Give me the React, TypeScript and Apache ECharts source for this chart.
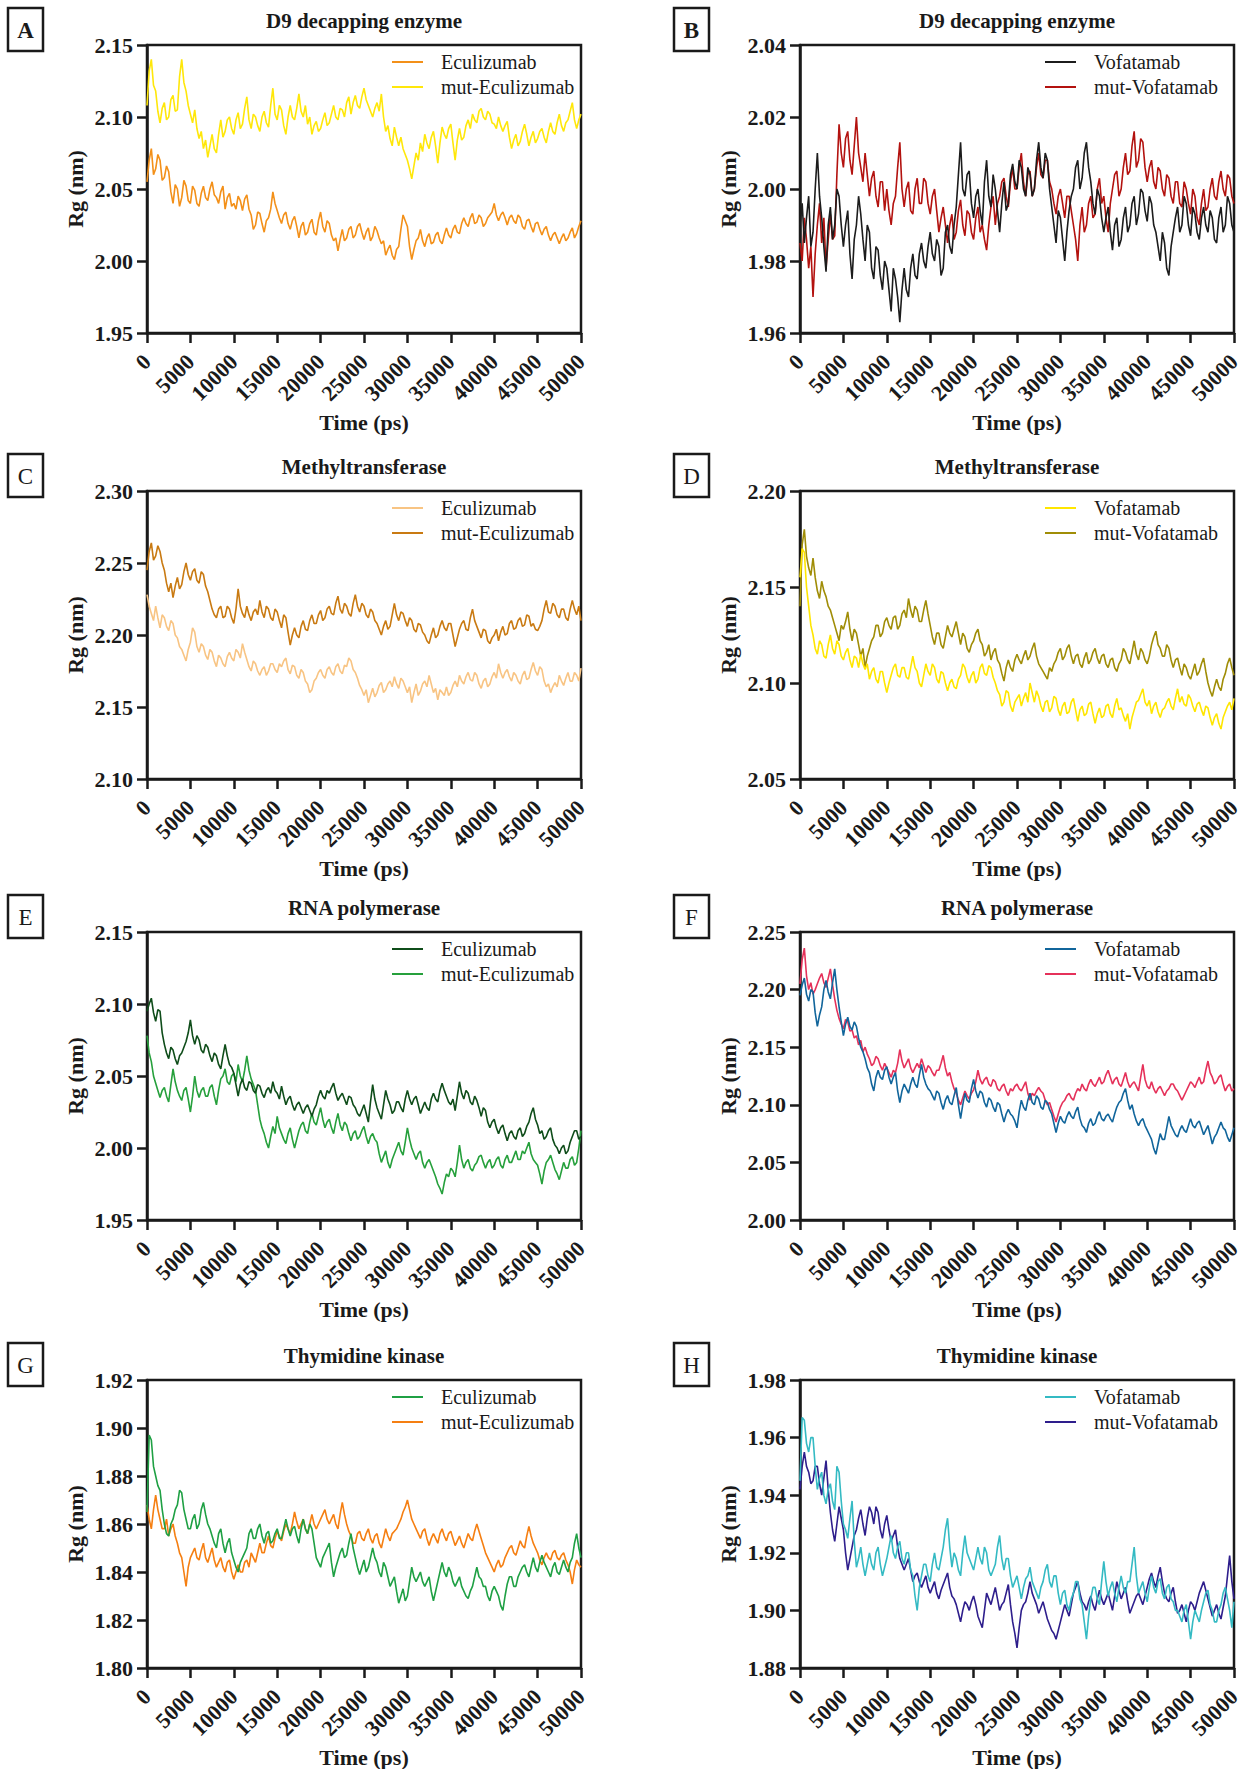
import React, { useEffect, useRef } from "react";
import * as echarts from "echarts";

const FONT = '"Liberation Serif", "Times New Roman", Times, serif';
const INK = "#1a1a1a";

// sample times (ps): one sample every 250 ps, 0 … 50000
const TIME_PS = Array.from({ length: 201 }, (_, i) => i * 250);
const X_TICKS = { min: 0, max: 50000, step: 5000 };

// ---------- A: D9 decapping enzyme (Eculizumab) ----------
const A_ECU = [
  2.055, 2.070, 2.078, 2.060, 2.064, 2.074, 2.070, 2.056, 2.058, 2.066, 2.062, 2.048, 2.040, 2.053, 2.050, 2.038, 2.044, 2.056, 2.052, 2.042,
  2.040, 2.052, 2.049, 2.040, 2.038, 2.047, 2.052, 2.044, 2.042, 2.050, 2.055, 2.046, 2.044, 2.040, 2.048, 2.052, 2.036, 2.044, 2.047, 2.038,
  2.040, 2.036, 2.045, 2.042, 2.035, 2.043, 2.046, 2.036, 2.032, 2.022, 2.025, 2.034, 2.033, 2.026, 2.020, 2.028, 2.030, 2.036, 2.048, 2.040,
  2.035, 2.030, 2.026, 2.032, 2.034, 2.026, 2.022, 2.028, 2.031, 2.024, 2.016, 2.024, 2.027, 2.018, 2.020, 2.026, 2.029, 2.020, 2.018, 2.028,
  2.034, 2.024, 2.020, 2.028, 2.026, 2.018, 2.014, 2.016, 2.007, 2.015, 2.022, 2.014, 2.016, 2.022, 2.024, 2.016, 2.018, 2.024, 2.026, 2.020,
  2.015, 2.020, 2.023, 2.014, 2.017, 2.024, 2.021, 2.016, 2.012, 2.014, 2.004, 2.008, 2.011, 2.004, 2.001, 2.008, 2.010, 2.022, 2.032, 2.028,
  2.024, 2.010, 2.001, 2.008, 2.014, 2.016, 2.022, 2.014, 2.010, 2.016, 2.019, 2.012, 2.013, 2.018, 2.020, 2.014, 2.012, 2.018, 2.023, 2.018,
  2.016, 2.022, 2.025, 2.020, 2.019, 2.026, 2.030, 2.026, 2.024, 2.030, 2.033, 2.026, 2.027, 2.032, 2.030, 2.024, 2.026, 2.030, 2.032, 2.034,
  2.040, 2.032, 2.028, 2.032, 2.034, 2.030, 2.025, 2.030, 2.032, 2.028, 2.026, 2.032, 2.030, 2.024, 2.022, 2.028, 2.029, 2.024, 2.020, 2.026,
  2.027, 2.022, 2.018, 2.022, 2.024, 2.018, 2.014, 2.018, 2.020, 2.016, 2.012, 2.016, 2.019, 2.014, 2.016, 2.020, 2.023, 2.016, 2.019, 2.024,
  2.028,
];
const A_MUT = [
  2.108, 2.132, 2.140, 2.122, 2.118, 2.104, 2.096, 2.106, 2.110, 2.098, 2.100, 2.112, 2.115, 2.104, 2.105, 2.128, 2.140, 2.124, 2.118, 2.108,
  2.102, 2.096, 2.105, 2.092, 2.085, 2.090, 2.078, 2.084, 2.072, 2.080, 2.088, 2.078, 2.075, 2.088, 2.098, 2.086, 2.090, 2.098, 2.100, 2.092,
  2.088, 2.098, 2.103, 2.092, 2.095, 2.106, 2.114, 2.098, 2.092, 2.102, 2.100, 2.094, 2.090, 2.100, 2.104, 2.096, 2.093, 2.108, 2.120, 2.102,
  2.098, 2.108, 2.105, 2.094, 2.088, 2.100, 2.108, 2.100, 2.098, 2.106, 2.116, 2.104, 2.100, 2.108, 2.095, 2.100, 2.088, 2.094, 2.097, 2.090,
  2.092, 2.098, 2.103, 2.094, 2.096, 2.102, 2.108, 2.100, 2.098, 2.106, 2.105, 2.100, 2.110, 2.114, 2.102, 2.110, 2.115, 2.108, 2.106, 2.114,
  2.120, 2.112, 2.108, 2.104, 2.100, 2.106, 2.110, 2.104, 2.116, 2.100, 2.090, 2.094, 2.085, 2.080, 2.093, 2.086, 2.080, 2.086, 2.078, 2.074,
  2.070, 2.064, 2.057, 2.066, 2.075, 2.070, 2.082, 2.076, 2.088, 2.082, 2.078, 2.086, 2.090, 2.080, 2.068, 2.082, 2.093, 2.088, 2.085, 2.092,
  2.095, 2.082, 2.070, 2.084, 2.092, 2.084, 2.086, 2.094, 2.098, 2.092, 2.102, 2.098, 2.096, 2.104, 2.106, 2.100, 2.098, 2.104, 2.102, 2.096,
  2.095, 2.092, 2.100, 2.094, 2.090, 2.094, 2.097, 2.086, 2.078, 2.084, 2.088, 2.080, 2.083, 2.090, 2.095, 2.088, 2.080, 2.086, 2.090, 2.082,
  2.085, 2.090, 2.092, 2.086, 2.082, 2.090, 2.096, 2.090, 2.088, 2.096, 2.102, 2.094, 2.090, 2.096, 2.098, 2.104, 2.110, 2.098, 2.092, 2.098,
  2.102,
];

// ---------- B: D9 decapping enzyme (Vofatamab) ----------
const B_VOF = [
  1.990, 1.996, 1.985, 1.992, 1.998, 1.984, 1.988, 2.000, 2.010, 1.998, 1.992, 1.984, 1.977, 1.990, 1.995, 1.986, 1.990, 2.000, 1.998, 1.990,
  1.984, 1.990, 1.994, 1.982, 1.975, 1.986, 1.990, 1.998, 1.993, 1.986, 1.980, 1.990, 1.988, 1.978, 1.975, 1.984, 1.983, 1.976, 1.972, 1.980,
  1.978, 1.972, 1.966, 1.978, 1.975, 1.970, 1.963, 1.972, 1.978, 1.972, 1.970, 1.978, 1.982, 1.976, 1.975, 1.982, 1.985, 1.980, 1.978, 1.984,
  1.988, 1.982, 1.980, 1.986, 1.984, 1.976, 1.978, 1.988, 1.990, 1.984, 1.982, 1.990, 1.995, 2.004, 2.013, 2.000, 1.998, 2.004, 2.005, 1.996,
  1.992, 1.998, 2.000, 1.994, 1.990, 2.002, 2.008, 1.998, 1.995, 2.004, 2.000, 1.994, 1.988, 1.996, 2.002, 1.994, 1.996, 2.004, 2.007, 2.002,
  2.000, 2.008, 2.006, 2.000, 1.998, 2.006, 2.004, 1.998, 2.000, 2.008, 2.013, 2.006, 2.003, 2.010, 2.008, 2.000, 1.995, 1.990, 1.985, 1.994,
  1.992, 1.986, 1.980, 1.988, 1.994, 1.998, 2.000, 2.006, 2.008, 2.000, 2.003, 2.010, 2.013, 2.006, 2.002, 1.996, 1.993, 2.000, 1.998, 1.992,
  1.988, 1.992, 1.995, 1.988, 1.983, 1.990, 1.992, 1.984, 1.986, 1.992, 1.995, 1.988, 1.990, 1.996, 1.998, 1.990, 1.993, 2.000, 1.999, 1.994,
  1.991, 1.998, 1.996, 1.990, 1.988, 1.984, 1.980, 1.988, 1.985, 1.978, 1.976, 1.984, 1.988, 1.992, 1.995, 1.988, 1.990, 1.998, 1.996, 1.990,
  1.987, 1.995, 1.993, 1.988, 1.986, 1.992, 1.995, 1.990, 1.988, 1.994, 1.992, 1.986, 1.985, 1.992, 1.995, 1.988, 1.990, 1.998, 1.996, 1.990,
  1.988,
];
const B_MUT = [
  1.985, 1.980, 1.992, 1.986, 1.978, 1.984, 1.970, 1.982, 1.990, 1.996, 1.985, 1.992, 1.978, 1.986, 1.993, 1.986, 1.987, 2.004, 2.018, 2.010,
  2.006, 2.014, 2.016, 2.008, 2.004, 2.012, 2.020, 2.010, 2.006, 2.002, 2.010, 2.004, 1.998, 2.003, 2.005, 1.998, 1.995, 2.002, 2.002, 1.994,
  2.000, 1.994, 1.990, 1.996, 1.998, 2.006, 2.013, 2.000, 1.995, 2.000, 2.002, 1.994, 1.993, 2.000, 2.003, 1.996, 1.996, 2.003, 2.002, 1.996,
  1.993, 1.998, 2.000, 1.994, 1.988, 1.992, 1.995, 1.990, 1.985, 1.990, 1.993, 1.986, 1.988, 1.994, 1.997, 1.990, 1.987, 1.994, 1.993, 1.988,
  1.986, 1.992, 1.995, 1.988, 1.990, 1.986, 1.983, 1.990, 1.995, 1.998, 1.990, 1.996, 1.998, 2.002, 2.003, 1.998, 1.995, 2.002, 2.006, 2.000,
  2.000, 2.006, 2.010, 2.002, 1.998, 2.004, 2.005, 1.998, 2.000, 2.006, 2.010, 2.004, 2.003, 2.008, 2.008, 2.002, 2.000, 1.996, 1.993, 1.998,
  2.000, 1.996, 1.992, 1.998, 1.998, 1.994, 1.990, 1.986, 1.980, 1.990, 1.995, 1.988, 1.990, 1.996, 1.998, 1.992, 1.993, 2.000, 2.003, 1.996,
  1.998, 1.992, 1.988, 1.996, 2.000, 2.004, 2.005, 1.998, 2.000, 2.006, 2.010, 2.004, 2.005, 2.012, 2.016, 2.006, 2.008, 2.014, 2.013, 2.006,
  2.002, 2.006, 2.008, 2.002, 2.000, 2.006, 2.005, 2.000, 1.998, 2.004, 2.003, 1.998, 1.996, 2.002, 2.002, 1.996, 1.995, 2.002, 2.000, 1.996,
  1.993, 2.000, 1.998, 1.992, 1.990, 1.996, 2.000, 1.994, 1.995, 2.000, 2.003, 1.998, 1.997, 2.002, 2.005, 2.000, 1.998, 2.004, 2.003, 1.998,
  1.996,
];

// ---------- C: Methyltransferase (Eculizumab) ----------
const C_ECU = [
  2.228, 2.220, 2.215, 2.210, 2.220, 2.212, 2.205, 2.214, 2.212, 2.206, 2.203, 2.210, 2.208, 2.200, 2.198, 2.192, 2.190, 2.186, 2.182, 2.190,
  2.195, 2.205, 2.202, 2.192, 2.188, 2.194, 2.192, 2.186, 2.183, 2.190, 2.188, 2.182, 2.178, 2.186, 2.184, 2.180, 2.178, 2.185, 2.188, 2.184,
  2.182, 2.190, 2.188, 2.184, 2.194, 2.188, 2.183, 2.178, 2.175, 2.182, 2.180, 2.175, 2.172, 2.176, 2.178, 2.172, 2.175, 2.180, 2.180, 2.176,
  2.174, 2.180, 2.178, 2.182, 2.184, 2.176, 2.173, 2.179, 2.178, 2.172, 2.170, 2.176, 2.174, 2.168, 2.166, 2.160, 2.162, 2.168, 2.170, 2.174,
  2.176, 2.172, 2.170, 2.176, 2.178, 2.174, 2.172, 2.178, 2.180, 2.175, 2.173, 2.179, 2.178, 2.184, 2.182, 2.176, 2.174, 2.170, 2.165, 2.162,
  2.158, 2.162, 2.153, 2.158, 2.163, 2.157, 2.160, 2.165, 2.167, 2.160, 2.162, 2.166, 2.168, 2.164, 2.171, 2.166, 2.163, 2.170, 2.168, 2.164,
  2.160, 2.164, 2.153, 2.160, 2.166, 2.158, 2.161, 2.166, 2.168, 2.164, 2.172, 2.166, 2.160, 2.163, 2.155, 2.162, 2.160, 2.158, 2.164, 2.158,
  2.160, 2.165, 2.168, 2.164, 2.172, 2.168, 2.166, 2.171, 2.174, 2.169, 2.168, 2.174, 2.172, 2.166, 2.163, 2.168, 2.170, 2.164, 2.166, 2.171,
  2.174, 2.170, 2.180, 2.174, 2.170, 2.174, 2.176, 2.171, 2.168, 2.174, 2.172, 2.168, 2.166, 2.172, 2.175, 2.169, 2.170, 2.176, 2.181, 2.175,
  2.172, 2.178, 2.176, 2.168, 2.164, 2.166, 2.160, 2.164, 2.167, 2.164, 2.172, 2.168, 2.165, 2.170, 2.174, 2.168, 2.168, 2.174, 2.172, 2.168,
  2.177,
];
const C_MUT = [
  2.245, 2.258, 2.264, 2.252, 2.255, 2.262, 2.258, 2.250, 2.245, 2.236, 2.230, 2.236, 2.226, 2.234, 2.240, 2.232, 2.235, 2.244, 2.250, 2.242,
  2.238, 2.244, 2.246, 2.238, 2.236, 2.244, 2.242, 2.234, 2.230, 2.224, 2.218, 2.214, 2.212, 2.218, 2.220, 2.212, 2.213, 2.220, 2.218, 2.212,
  2.208, 2.218, 2.232, 2.220, 2.215, 2.212, 2.220, 2.214, 2.210, 2.216, 2.218, 2.214, 2.224, 2.216, 2.212, 2.220, 2.218, 2.212, 2.210, 2.218,
  2.216, 2.210, 2.205, 2.214, 2.212, 2.202, 2.193, 2.200, 2.205, 2.200, 2.198, 2.206, 2.210, 2.204, 2.203, 2.210, 2.214, 2.208, 2.208, 2.214,
  2.217, 2.210, 2.212, 2.218, 2.220, 2.215, 2.214, 2.222, 2.227, 2.218, 2.215, 2.222, 2.220, 2.215, 2.213, 2.222, 2.228, 2.220, 2.216, 2.222,
  2.220, 2.214, 2.212, 2.218, 2.216, 2.210, 2.208, 2.204, 2.200, 2.206, 2.210, 2.204, 2.206, 2.214, 2.222, 2.214, 2.210, 2.216, 2.215, 2.210,
  2.206, 2.212, 2.210, 2.204, 2.202, 2.208, 2.207, 2.202, 2.200, 2.196, 2.194, 2.200, 2.205, 2.198, 2.200, 2.206, 2.210, 2.205, 2.203, 2.208,
  2.208, 2.200, 2.192, 2.198, 2.204, 2.208, 2.210, 2.204, 2.203, 2.212, 2.218, 2.210, 2.206, 2.202, 2.198, 2.204, 2.203, 2.196, 2.194, 2.198,
  2.200, 2.204, 2.196, 2.202, 2.206, 2.200, 2.201, 2.208, 2.210, 2.204, 2.205, 2.210, 2.212, 2.206, 2.207, 2.214, 2.213, 2.206, 2.208, 2.204,
  2.203, 2.206, 2.210, 2.218, 2.224, 2.216, 2.215, 2.222, 2.220, 2.214, 2.212, 2.218, 2.218, 2.212, 2.210, 2.218, 2.224, 2.218, 2.214, 2.220,
  2.210,
];

// ---------- D: Methyltransferase (Vofatamab) ----------
const D_VOF = [
  2.155, 2.170, 2.168, 2.150, 2.140, 2.130, 2.125, 2.118, 2.115, 2.122, 2.120, 2.114, 2.113, 2.120, 2.125, 2.118, 2.115, 2.122, 2.120, 2.114,
  2.112, 2.116, 2.118, 2.112, 2.108, 2.114, 2.113, 2.108, 2.115, 2.110, 2.107, 2.110, 2.102, 2.106, 2.108, 2.102, 2.100, 2.106, 2.106, 2.100,
  2.095, 2.100, 2.104, 2.108, 2.110, 2.104, 2.103, 2.108, 2.108, 2.103, 2.102, 2.108, 2.114, 2.108, 2.106, 2.100, 2.098, 2.104, 2.110, 2.106,
  2.104, 2.110, 2.108, 2.102, 2.100, 2.106, 2.105, 2.100, 2.096, 2.100, 2.102, 2.098, 2.097, 2.102, 2.104, 2.110, 2.108, 2.103, 2.100, 2.104,
  2.106, 2.100, 2.102, 2.108, 2.110, 2.105, 2.104, 2.109, 2.108, 2.103, 2.100, 2.096, 2.094, 2.088, 2.090, 2.096, 2.095, 2.088, 2.085, 2.090,
  2.092, 2.094, 2.088, 2.092, 2.095, 2.090, 2.100, 2.095, 2.090, 2.096, 2.093, 2.088, 2.085, 2.090, 2.091, 2.085, 2.087, 2.093, 2.092, 2.086,
  2.083, 2.088, 2.090, 2.084, 2.085, 2.090, 2.092, 2.086, 2.080, 2.086, 2.088, 2.083, 2.084, 2.089, 2.090, 2.084, 2.079, 2.084, 2.087, 2.082,
  2.083, 2.088, 2.089, 2.084, 2.082, 2.088, 2.092, 2.086, 2.087, 2.083, 2.080, 2.084, 2.076, 2.082, 2.086, 2.090, 2.091, 2.094, 2.097, 2.090,
  2.088, 2.091, 2.084, 2.088, 2.090, 2.085, 2.082, 2.086, 2.087, 2.090, 2.092, 2.088, 2.086, 2.092, 2.097, 2.090, 2.093, 2.089, 2.088, 2.094,
  2.092, 2.088, 2.085, 2.089, 2.090, 2.086, 2.083, 2.088, 2.087, 2.082, 2.078, 2.082, 2.084, 2.079, 2.076, 2.082, 2.085, 2.088, 2.090, 2.086,
  2.092,
];
const D_MUT = [
  2.140, 2.172, 2.180, 2.166, 2.160, 2.156, 2.165, 2.155, 2.148, 2.144, 2.153, 2.148, 2.145, 2.140, 2.138, 2.134, 2.130, 2.126, 2.122, 2.130,
  2.128, 2.132, 2.137, 2.128, 2.122, 2.128, 2.126, 2.120, 2.114, 2.118, 2.108, 2.114, 2.118, 2.122, 2.124, 2.130, 2.130, 2.124, 2.126, 2.132,
  2.134, 2.130, 2.128, 2.134, 2.135, 2.128, 2.130, 2.136, 2.138, 2.134, 2.144, 2.138, 2.134, 2.140, 2.138, 2.132, 2.132, 2.138, 2.143, 2.136,
  2.130, 2.124, 2.120, 2.126, 2.126, 2.120, 2.118, 2.124, 2.130, 2.126, 2.124, 2.128, 2.132, 2.126, 2.120, 2.126, 2.124, 2.118, 2.116, 2.120,
  2.122, 2.126, 2.128, 2.122, 2.120, 2.114, 2.116, 2.120, 2.112, 2.116, 2.118, 2.112, 2.110, 2.105, 2.101, 2.108, 2.112, 2.108, 2.106, 2.112,
  2.115, 2.112, 2.110, 2.114, 2.117, 2.112, 2.114, 2.118, 2.121, 2.114, 2.110, 2.108, 2.106, 2.104, 2.102, 2.108, 2.106, 2.110, 2.112, 2.116,
  2.118, 2.112, 2.114, 2.118, 2.120, 2.114, 2.110, 2.114, 2.115, 2.110, 2.108, 2.113, 2.116, 2.110, 2.112, 2.116, 2.118, 2.113, 2.110, 2.114,
  2.115, 2.110, 2.108, 2.112, 2.113, 2.108, 2.106, 2.110, 2.112, 2.118, 2.116, 2.112, 2.110, 2.116, 2.122, 2.115, 2.112, 2.118, 2.116, 2.112,
  2.110, 2.114, 2.120, 2.124, 2.127, 2.120, 2.118, 2.114, 2.114, 2.120, 2.118, 2.112, 2.108, 2.112, 2.113, 2.108, 2.104, 2.110, 2.108, 2.104,
  2.102, 2.106, 2.110, 2.104, 2.106, 2.110, 2.113, 2.106, 2.100, 2.096, 2.093, 2.098, 2.102, 2.098, 2.096, 2.102, 2.105, 2.110, 2.113, 2.108,
  2.104,
];

// ---------- E: RNA polymerase (Eculizumab) ----------
const E_ECU = [
  2.095, 2.100, 2.104, 2.094, 2.088, 2.096, 2.095, 2.080, 2.072, 2.066, 2.062, 2.070, 2.068, 2.062, 2.058, 2.064, 2.066, 2.070, 2.074, 2.080,
  2.089, 2.078, 2.072, 2.078, 2.075, 2.068, 2.066, 2.072, 2.070, 2.064, 2.060, 2.066, 2.064, 2.058, 2.055, 2.064, 2.072, 2.064, 2.058, 2.056,
  2.052, 2.044, 2.036, 2.044, 2.048, 2.042, 2.040, 2.046, 2.045, 2.040, 2.038, 2.044, 2.043, 2.038, 2.035, 2.040, 2.042, 2.038, 2.046, 2.040,
  2.038, 2.034, 2.043, 2.036, 2.030, 2.034, 2.036, 2.030, 2.026, 2.030, 2.032, 2.028, 2.024, 2.028, 2.030, 2.026, 2.022, 2.027, 2.030, 2.036,
  2.040, 2.036, 2.034, 2.040, 2.038, 2.042, 2.045, 2.038, 2.033, 2.036, 2.038, 2.034, 2.030, 2.036, 2.035, 2.030, 2.028, 2.024, 2.022, 2.026,
  2.030, 2.024, 2.018, 2.032, 2.044, 2.034, 2.028, 2.024, 2.020, 2.030, 2.040, 2.034, 2.030, 2.024, 2.026, 2.032, 2.032, 2.028, 2.025, 2.034,
  2.040, 2.034, 2.030, 2.034, 2.036, 2.030, 2.024, 2.028, 2.032, 2.028, 2.026, 2.034, 2.038, 2.034, 2.032, 2.040, 2.045, 2.040, 2.036, 2.032,
  2.030, 2.034, 2.026, 2.036, 2.046, 2.038, 2.034, 2.040, 2.038, 2.032, 2.030, 2.036, 2.033, 2.028, 2.022, 2.028, 2.026, 2.018, 2.014, 2.018,
  2.020, 2.014, 2.010, 2.014, 2.016, 2.010, 2.005, 2.010, 2.012, 2.008, 2.006, 2.012, 2.014, 2.008, 2.010, 2.015, 2.018, 2.024, 2.028, 2.020,
  2.016, 2.010, 2.012, 2.006, 2.008, 2.012, 2.014, 2.006, 2.002, 2.000, 1.996, 2.000, 2.002, 1.996, 1.998, 2.004, 2.008, 2.012, 2.012, 2.006,
  2.008,
];
const E_MUT = [
  2.078, 2.066, 2.060, 2.050, 2.045, 2.040, 2.035, 2.040, 2.042, 2.036, 2.032, 2.044, 2.055, 2.046, 2.040, 2.036, 2.033, 2.040, 2.042, 2.034,
  2.025, 2.036, 2.050, 2.040, 2.035, 2.040, 2.042, 2.036, 2.036, 2.042, 2.044, 2.036, 2.030, 2.040, 2.048, 2.050, 2.055, 2.046, 2.044, 2.050,
  2.052, 2.046, 2.058, 2.050, 2.046, 2.054, 2.064, 2.054, 2.048, 2.044, 2.040, 2.030, 2.020, 2.014, 2.010, 2.004, 2.000, 2.008, 2.015, 2.010,
  2.022, 2.014, 2.010, 2.006, 2.003, 2.010, 2.014, 2.006, 2.000, 2.006, 2.012, 2.016, 2.018, 2.012, 2.010, 2.018, 2.024, 2.018, 2.016, 2.022,
  2.028, 2.020, 2.014, 2.018, 2.020, 2.014, 2.010, 2.018, 2.024, 2.016, 2.012, 2.018, 2.016, 2.010, 2.005, 2.010, 2.012, 2.006, 2.008, 2.012,
  2.015, 2.008, 2.003, 2.008, 2.010, 2.006, 2.004, 1.996, 1.990, 1.994, 1.998, 1.990, 1.986, 1.992, 1.996, 2.000, 2.004, 1.998, 1.995, 2.004,
  2.014, 2.006, 2.000, 1.996, 1.992, 1.996, 1.998, 1.990, 1.986, 1.990, 1.992, 1.988, 1.984, 1.980, 1.975, 1.972, 1.968, 1.976, 1.982, 1.980,
  1.986, 1.984, 1.980, 1.990, 2.002, 1.992, 1.986, 1.990, 1.992, 1.986, 1.984, 1.988, 1.990, 1.994, 1.995, 1.990, 1.986, 1.990, 1.992, 1.986,
  1.988, 1.992, 1.994, 1.988, 1.986, 1.992, 1.995, 1.990, 1.990, 1.994, 1.998, 1.992, 1.992, 1.998, 1.996, 2.000, 2.004, 1.996, 1.992, 1.990,
  1.988, 1.982, 1.975, 1.984, 1.990, 1.992, 1.995, 1.990, 1.985, 1.982, 1.978, 1.984, 1.990, 1.986, 1.986, 1.992, 1.994, 1.988, 1.990, 2.000,
  2.012,
];

// ---------- F: RNA polymerase (Vofatamab) ----------
const F_VOF = [
  2.195, 2.204, 2.210, 2.196, 2.190, 2.200, 2.198, 2.180, 2.168, 2.178, 2.185, 2.200, 2.208, 2.198, 2.192, 2.206, 2.218, 2.200, 2.185, 2.172,
  2.160, 2.170, 2.176, 2.168, 2.165, 2.172, 2.168, 2.158, 2.150, 2.146, 2.140, 2.132, 2.128, 2.118, 2.112, 2.124, 2.130, 2.124, 2.122, 2.130,
  2.133, 2.124, 2.118, 2.124, 2.128, 2.112, 2.102, 2.112, 2.118, 2.114, 2.110, 2.118, 2.124, 2.118, 2.115, 2.126, 2.135, 2.124, 2.118, 2.114,
  2.112, 2.108, 2.104, 2.112, 2.110, 2.102, 2.096, 2.104, 2.108, 2.102, 2.100, 2.108, 2.115, 2.100, 2.088, 2.100, 2.110, 2.104, 2.102, 2.114,
  2.122, 2.112, 2.106, 2.112, 2.110, 2.102, 2.098, 2.106, 2.104, 2.098, 2.094, 2.102, 2.100, 2.092, 2.085, 2.092, 2.096, 2.092, 2.090, 2.086,
  2.080, 2.094, 2.104, 2.098, 2.095, 2.104, 2.110, 2.102, 2.100, 2.108, 2.105, 2.098, 2.096, 2.104, 2.102, 2.096, 2.092, 2.084, 2.076, 2.084,
  2.090, 2.086, 2.084, 2.090, 2.094, 2.090, 2.088, 2.094, 2.098, 2.088, 2.082, 2.080, 2.076, 2.084, 2.088, 2.082, 2.084, 2.090, 2.094, 2.088,
  2.086, 2.090, 2.092, 2.088, 2.085, 2.092, 2.098, 2.102, 2.104, 2.110, 2.114, 2.104, 2.096, 2.100, 2.092, 2.086, 2.082, 2.086, 2.088, 2.082,
  2.078, 2.074, 2.070, 2.062, 2.057, 2.066, 2.075, 2.070, 2.070, 2.080, 2.090, 2.082, 2.078, 2.074, 2.072, 2.078, 2.082, 2.078, 2.076, 2.082,
  2.088, 2.082, 2.080, 2.084, 2.086, 2.080, 2.074, 2.078, 2.082, 2.074, 2.066, 2.072, 2.075, 2.080, 2.085, 2.080, 2.078, 2.072, 2.068, 2.074,
  2.080,
];
const F_MUT = [
  2.205, 2.226, 2.236, 2.212, 2.200, 2.206, 2.196, 2.200, 2.205, 2.210, 2.214, 2.206, 2.202, 2.210, 2.218, 2.204, 2.192, 2.182, 2.175, 2.170,
  2.166, 2.174, 2.172, 2.164, 2.165, 2.158, 2.160, 2.152, 2.156, 2.146, 2.150, 2.144, 2.140, 2.134, 2.136, 2.142, 2.140, 2.134, 2.130, 2.136,
  2.132, 2.128, 2.124, 2.130, 2.128, 2.136, 2.148, 2.138, 2.132, 2.136, 2.140, 2.132, 2.128, 2.132, 2.136, 2.132, 2.140, 2.134, 2.128, 2.134,
  2.132, 2.128, 2.125, 2.130, 2.130, 2.136, 2.143, 2.132, 2.125, 2.128, 2.120, 2.114, 2.110, 2.104, 2.100, 2.106, 2.112, 2.108, 2.105, 2.110,
  2.113, 2.120, 2.130, 2.122, 2.118, 2.122, 2.124, 2.118, 2.116, 2.122, 2.120, 2.114, 2.112, 2.116, 2.118, 2.112, 2.108, 2.114, 2.112, 2.116,
  2.118, 2.114, 2.112, 2.116, 2.120, 2.110, 2.104, 2.110, 2.108, 2.112, 2.115, 2.112, 2.110, 2.104, 2.100, 2.102, 2.096, 2.090, 2.085, 2.092,
  2.098, 2.102, 2.104, 2.108, 2.110, 2.106, 2.104, 2.110, 2.114, 2.112, 2.118, 2.114, 2.112, 2.118, 2.122, 2.118, 2.116, 2.120, 2.124, 2.118,
  2.120, 2.126, 2.130, 2.124, 2.118, 2.122, 2.124, 2.118, 2.116, 2.122, 2.128, 2.120, 2.115, 2.118, 2.120, 2.116, 2.112, 2.124, 2.135, 2.122,
  2.116, 2.114, 2.120, 2.114, 2.110, 2.114, 2.116, 2.112, 2.108, 2.112, 2.114, 2.118, 2.118, 2.114, 2.112, 2.108, 2.104, 2.108, 2.112, 2.116,
  2.120, 2.118, 2.115, 2.120, 2.124, 2.118, 2.120, 2.130, 2.138, 2.128, 2.124, 2.118, 2.120, 2.124, 2.126, 2.118, 2.112, 2.116, 2.118, 2.112,
  2.114,
];

// ---------- G: Thymidine kinase (Eculizumab) ----------
const G_ECU = [
  1.865, 1.897, 1.895, 1.884, 1.880, 1.876, 1.874, 1.866, 1.860, 1.856, 1.855, 1.860, 1.862, 1.866, 1.868, 1.874, 1.873, 1.866, 1.862, 1.858,
  1.858, 1.862, 1.864, 1.858, 1.860, 1.866, 1.869, 1.864, 1.860, 1.858, 1.855, 1.852, 1.850, 1.856, 1.858, 1.852, 1.848, 1.852, 1.854, 1.848,
  1.845, 1.842, 1.840, 1.844, 1.846, 1.848, 1.850, 1.856, 1.858, 1.854, 1.854, 1.858, 1.860, 1.855, 1.852, 1.856, 1.857, 1.852, 1.853, 1.856,
  1.858, 1.854, 1.854, 1.858, 1.862, 1.858, 1.855, 1.858, 1.859, 1.855, 1.852, 1.858, 1.862, 1.858, 1.856, 1.860, 1.858, 1.852, 1.846, 1.844,
  1.842, 1.846, 1.848, 1.850, 1.852, 1.844, 1.838, 1.842, 1.845, 1.848, 1.850, 1.846, 1.847, 1.852, 1.856, 1.850, 1.846, 1.842, 1.839, 1.842,
  1.845, 1.840, 1.842, 1.846, 1.850, 1.846, 1.844, 1.840, 1.838, 1.844, 1.842, 1.838, 1.834, 1.836, 1.838, 1.832, 1.827, 1.830, 1.833, 1.828,
  1.830, 1.836, 1.842, 1.838, 1.836, 1.838, 1.840, 1.836, 1.834, 1.836, 1.838, 1.832, 1.828, 1.832, 1.836, 1.840, 1.844, 1.840, 1.838, 1.842,
  1.840, 1.836, 1.834, 1.836, 1.838, 1.834, 1.832, 1.830, 1.829, 1.832, 1.834, 1.838, 1.842, 1.838, 1.837, 1.834, 1.834, 1.830, 1.828, 1.832,
  1.834, 1.832, 1.830, 1.826, 1.824, 1.830, 1.835, 1.838, 1.838, 1.834, 1.834, 1.838, 1.840, 1.842, 1.843, 1.840, 1.838, 1.842, 1.846, 1.842,
  1.840, 1.844, 1.847, 1.844, 1.842, 1.840, 1.838, 1.842, 1.844, 1.840, 1.839, 1.842, 1.845, 1.842, 1.840, 1.844, 1.846, 1.852, 1.856, 1.850,
  1.846,
];
const G_MUT = [
  1.868, 1.862, 1.858, 1.866, 1.872, 1.866, 1.862, 1.858, 1.858, 1.862, 1.855, 1.858, 1.860, 1.855, 1.852, 1.848, 1.846, 1.840, 1.834, 1.842,
  1.846, 1.848, 1.850, 1.846, 1.845, 1.849, 1.852, 1.846, 1.844, 1.847, 1.850, 1.845, 1.842, 1.844, 1.846, 1.842, 1.840, 1.844, 1.845, 1.840,
  1.837, 1.840, 1.843, 1.840, 1.840, 1.844, 1.845, 1.842, 1.848, 1.846, 1.844, 1.848, 1.852, 1.848, 1.848, 1.852, 1.855, 1.851, 1.850, 1.854,
  1.857, 1.855, 1.853, 1.857, 1.860, 1.858, 1.856, 1.860, 1.865, 1.861, 1.858, 1.860, 1.862, 1.858, 1.856, 1.860, 1.864, 1.860, 1.858, 1.860,
  1.862, 1.864, 1.866, 1.862, 1.860, 1.862, 1.864, 1.860, 1.858, 1.864, 1.869, 1.864, 1.860, 1.857, 1.855, 1.852, 1.852, 1.856, 1.857, 1.854,
  1.853, 1.856, 1.858, 1.854, 1.852, 1.855, 1.856, 1.852, 1.850, 1.854, 1.858, 1.855, 1.853, 1.856, 1.857, 1.858, 1.860, 1.862, 1.865, 1.867,
  1.870, 1.866, 1.862, 1.860, 1.858, 1.856, 1.854, 1.857, 1.858, 1.854, 1.851, 1.854, 1.856, 1.854, 1.852, 1.856, 1.858, 1.855, 1.853, 1.856,
  1.857, 1.854, 1.851, 1.853, 1.855, 1.852, 1.850, 1.853, 1.856, 1.854, 1.853, 1.857, 1.860, 1.857, 1.854, 1.851, 1.848, 1.846, 1.844, 1.842,
  1.840, 1.843, 1.845, 1.842, 1.843, 1.846, 1.848, 1.850, 1.851, 1.848, 1.847, 1.850, 1.853, 1.851, 1.850, 1.855, 1.859, 1.855, 1.852, 1.850,
  1.848, 1.845, 1.843, 1.846, 1.848, 1.846, 1.845, 1.848, 1.849, 1.846, 1.845, 1.847, 1.848, 1.845, 1.843, 1.840, 1.835, 1.841, 1.845, 1.843,
  1.842,
];

// ---------- H: Thymidine kinase (Vofatamab) ----------
const H_VOF = [
  1.945, 1.967, 1.966, 1.958, 1.955, 1.960, 1.960, 1.950, 1.942, 1.946, 1.948, 1.940, 1.937, 1.942, 1.944, 1.938, 1.935, 1.950, 1.948, 1.938,
  1.930, 1.928, 1.925, 1.932, 1.938, 1.924, 1.915, 1.918, 1.922, 1.916, 1.912, 1.916, 1.920, 1.916, 1.914, 1.920, 1.922, 1.916, 1.912, 1.915,
  1.918, 1.922, 1.926, 1.920, 1.918, 1.922, 1.924, 1.918, 1.916, 1.920, 1.920, 1.914, 1.912, 1.905, 1.900, 1.908, 1.912, 1.916, 1.916, 1.912,
  1.910, 1.916, 1.920, 1.915, 1.914, 1.918, 1.922, 1.928, 1.932, 1.922, 1.915, 1.920, 1.918, 1.914, 1.912, 1.920, 1.926, 1.920, 1.918, 1.916,
  1.914, 1.918, 1.922, 1.918, 1.916, 1.922, 1.920, 1.914, 1.912, 1.914, 1.916, 1.922, 1.926, 1.918, 1.914, 1.918, 1.918, 1.912, 1.908, 1.910,
  1.912, 1.908, 1.904, 1.908, 1.911, 1.912, 1.915, 1.910, 1.908, 1.906, 1.904, 1.908, 1.910, 1.914, 1.916, 1.910, 1.908, 1.912, 1.912, 1.906,
  1.902, 1.906, 1.907, 1.902, 1.900, 1.904, 1.906, 1.910, 1.910, 1.904, 1.902, 1.896, 1.890, 1.898, 1.904, 1.908, 1.908, 1.904, 1.902, 1.910,
  1.917, 1.910, 1.905, 1.908, 1.910, 1.906, 1.903, 1.908, 1.912, 1.908, 1.906, 1.910, 1.910, 1.916, 1.922, 1.912, 1.906, 1.908, 1.910, 1.906,
  1.903, 1.908, 1.912, 1.908, 1.906, 1.910, 1.911, 1.906, 1.904, 1.908, 1.909, 1.904, 1.903, 1.900, 1.900, 1.898, 1.896, 1.900, 1.902, 1.896,
  1.890, 1.896, 1.900, 1.898, 1.896, 1.900, 1.903, 1.906, 1.907, 1.902, 1.900, 1.896, 1.896, 1.900, 1.902, 1.906, 1.908, 1.904, 1.900, 1.894,
  1.903,
];
const H_MUT = [
  1.942, 1.950, 1.955, 1.950, 1.948, 1.944, 1.945, 1.950, 1.950, 1.944, 1.940, 1.946, 1.952, 1.942, 1.934, 1.928, 1.924, 1.930, 1.936, 1.932,
  1.928, 1.920, 1.914, 1.918, 1.922, 1.926, 1.928, 1.932, 1.935, 1.930, 1.926, 1.932, 1.936, 1.934, 1.930, 1.936, 1.934, 1.928, 1.925, 1.930,
  1.933, 1.928, 1.924, 1.926, 1.928, 1.922, 1.918, 1.916, 1.914, 1.916, 1.918, 1.914, 1.910, 1.912, 1.913, 1.910, 1.908, 1.910, 1.912, 1.908,
  1.906, 1.908, 1.910, 1.906, 1.904, 1.907, 1.909, 1.911, 1.913, 1.908, 1.905, 1.904, 1.902, 1.899, 1.896, 1.900, 1.903, 1.902, 1.900, 1.903,
  1.905, 1.902, 1.898, 1.896, 1.894, 1.900, 1.906, 1.904, 1.902, 1.905, 1.908, 1.904, 1.900, 1.902, 1.903, 1.906, 1.909, 1.902, 1.896, 1.892,
  1.887, 1.894, 1.900, 1.902, 1.903, 1.906, 1.910, 1.906, 1.904, 1.902, 1.899, 1.901, 1.903, 1.900, 1.897, 1.895, 1.893, 1.892, 1.890, 1.893,
  1.896, 1.899, 1.902, 1.900, 1.898, 1.902, 1.906, 1.908, 1.910, 1.906, 1.903, 1.902, 1.900, 1.903, 1.905, 1.902, 1.900, 1.904, 1.907, 1.904,
  1.902, 1.904, 1.906, 1.903, 1.900, 1.905, 1.910, 1.907, 1.904, 1.906, 1.908, 1.903, 1.899, 1.901, 1.903, 1.905, 1.906, 1.904, 1.902, 1.905,
  1.908, 1.911, 1.913, 1.910, 1.908, 1.912, 1.915, 1.910, 1.906, 1.904, 1.903, 1.906, 1.908, 1.903, 1.899, 1.900, 1.902, 1.899, 1.896, 1.900,
  1.903, 1.902, 1.900, 1.903, 1.906, 1.908, 1.910, 1.907, 1.904, 1.901, 1.898, 1.900, 1.902, 1.899, 1.897, 1.901, 1.905, 1.912, 1.919, 1.910,
  1.904,
];

const ECU_NAMES = ["Eculizumab", "mut-Eculizumab"];
const VOF_NAMES = ["Vofatamab", "mut-Vofatamab"];

const PANELS = [
  { letter: "A", title: "D9 decapping enzyme", names: ECU_NAMES, values: [A_ECU, A_MUT], colors: ["#F39019", "#FFE70A"], y: [1.95, 2.15, 0.05], col: 0, row: 0, boldLetter: true },
  { letter: "B", title: "D9 decapping enzyme", names: VOF_NAMES, values: [B_VOF, B_MUT], colors: ["#1C1C1C", "#B3120F"], y: [1.96, 2.04, 0.02], col: 1, row: 0, boldLetter: true },
  { letter: "C", title: "Methyltransferase", names: ECU_NAMES, values: [C_ECU, C_MUT], colors: ["#F8C483", "#C97A12"], y: [2.1, 2.3, 0.05], col: 0, row: 1, boldLetter: false },
  { letter: "D", title: "Methyltransferase", names: VOF_NAMES, values: [D_VOF, D_MUT], colors: ["#FFE600", "#A08D07"], y: [2.05, 2.2, 0.05], col: 1, row: 1, boldLetter: false },
  { letter: "E", title: "RNA polymerase", names: ECU_NAMES, values: [E_ECU, E_MUT], colors: ["#0F4D1A", "#26A03C"], y: [1.95, 2.15, 0.05], col: 0, row: 2, boldLetter: false },
  { letter: "F", title: "RNA polymerase", names: VOF_NAMES, values: [F_VOF, F_MUT], colors: ["#11659B", "#E5315A"], y: [2.0, 2.25, 0.05], col: 1, row: 2, boldLetter: false },
  { letter: "G", title: "Thymidine kinase", names: ECU_NAMES, values: [G_ECU, G_MUT], colors: ["#1FA044", "#F57F12"], y: [1.8, 1.92, 0.02], col: 0, row: 3, boldLetter: false },
  { letter: "H", title: "Thymidine kinase", names: VOF_NAMES, values: [H_VOF, H_MUT], colors: ["#34BAC3", "#2E1E8C"], y: [1.88, 1.98, 0.02], col: 1, row: 3, boldLetter: false },
];

// layout
const COL_X = [147, 800];
const ROW_Y = [45, 491, 932, 1380];
const PLOT_W = 434;
const PLOT_H = 288;
const BOX_X = [8, 674];

function buildOption() {
  const grid: any[] = [];
  const xAxis: any[] = [];
  const yAxis: any[] = [];
  const legend: any[] = [];
  const series: any[] = [];
  const elements: any[] = [];

  PANELS.forEach((p, i) => {
    const left = COL_X[p.col];
    const top = ROW_Y[p.row];
    grid.push({
      left,
      top,
      width: PLOT_W,
      height: PLOT_H,
      show: true,
      borderColor: INK,
      borderWidth: 2.5,
      backgroundColor: "transparent",
      containLabel: false,
      outerBoundsMode: "none",
    });
    xAxis.push({
      type: "value",
      gridIndex: i,
      min: X_TICKS.min,
      max: X_TICKS.max,
      interval: X_TICKS.step,
      name: "Time (ps)",
      nameLocation: "middle",
      nameGap: 78,
      nameTextStyle: { fontFamily: FONT, fontSize: 22, fontWeight: "bold", color: INK },
      axisLine: { show: true, onZero: false, lineStyle: { color: INK, width: 2.5 } },
      axisTick: { show: true, inside: false, length: 10, lineStyle: { color: INK, width: 2.5 } },
      axisLabel: {
        show: true,
        rotate: 45,
        margin: 25,
        fontFamily: FONT,
        fontSize: 22,
        fontWeight: "bold",
        color: INK,
        hideOverlap: false,
        formatter: (v: number) => String(v),
      },
      splitLine: { show: false },
    });
    yAxis.push({
      type: "value",
      gridIndex: i,
      min: p.y[0],
      max: p.y[1],
      interval: p.y[2],
      name: "Rg (nm)",
      nameLocation: "middle",
      nameGap: 61,
      nameTextStyle: { fontFamily: FONT, fontSize: 22, fontWeight: "bold", color: INK },
      axisLine: { show: true, onZero: false, lineStyle: { color: INK, width: 2.5 } },
      axisTick: { show: true, inside: false, length: 10, lineStyle: { color: INK, width: 2.5 } },
      axisLabel: {
        show: true,
        margin: 14,
        fontFamily: FONT,
        fontSize: 22,
        fontWeight: "bold",
        color: INK,
        formatter: (v: number) => v.toFixed(2),
      },
      splitLine: { show: false },
    });
    legend.push({
      orient: "vertical",
      left: left + 245,
      top: top + 4.5,
      padding: 0,
      itemGap: 0,
      itemWidth: 31,
      itemHeight: 2,
      icon: "rect",
      selectedMode: false,
      textStyle: { fontFamily: FONT, fontSize: 20, color: INK, lineHeight: 25, padding: [0, 0, 0, 13] },
      data: p.names.map((n, j) => ({ name: n, itemStyle: { color: p.colors[j] } })),
    });
    // second series drawn first so the first-named trace sits on top
    [1, 0].forEach((j, order) => {
      series.push({
        type: "line",
        name: p.names[j],
        xAxisIndex: i,
        yAxisIndex: i,
        data: TIME_PS.map((t, k) => [t, p.values[j][k]]),
        symbol: "none",
        showSymbol: false,
        silent: true,
        z: 2 + order,
        lineStyle: { color: p.colors[j], width: 1.6 },
        itemStyle: { color: p.colors[j] },
      });
    });
    // panel title
    elements.push({
      type: "text",
      x: left + PLOT_W / 2,
      y: top - 24,
      style: {
        text: p.title,
        font: `bold 21px ${FONT}`,
        fill: INK,
        align: "center",
        verticalAlign: "middle",
        textAlign: "center",
        textVerticalAlign: "middle",
      },
    });
    // panel letter box
    const bx = BOX_X[p.col];
    const by = top - 37;
    elements.push({
      type: "rect",
      shape: { x: bx, y: by, width: 35, height: 43 },
      style: { fill: "#ffffff", stroke: INK, lineWidth: 2.5 },
    });
    elements.push({
      type: "text",
      x: bx + 17.5,
      y: by + 22,
      style: {
        text: p.letter,
        font: `${p.boldLetter ? "bold " : ""}23px ${FONT}`,
        fill: INK,
        align: "center",
        verticalAlign: "middle",
        textAlign: "center",
        textVerticalAlign: "middle",
      },
    });
  });

  return {
    animation: false,
    backgroundColor: "#ffffff",
    textStyle: { fontFamily: FONT },
    grid,
    xAxis,
    yAxis,
    legend,
    series,
    graphic: { elements },
  };
}

export default function App() {
  const ref = useRef<HTMLDivElement | null>(null);
  useEffect(() => {
    if (!ref.current) return;
    const chart = echarts.init(ref.current, null, { renderer: "svg" });
    chart.setOption(buildOption());
    return () => chart.dispose();
  }, []);
  return (
    <div
      ref={ref}
      style={{ position: "absolute", left: 0, top: 0, width: 1240, height: 1769, background: "#ffffff" }}
    />
  );
}
